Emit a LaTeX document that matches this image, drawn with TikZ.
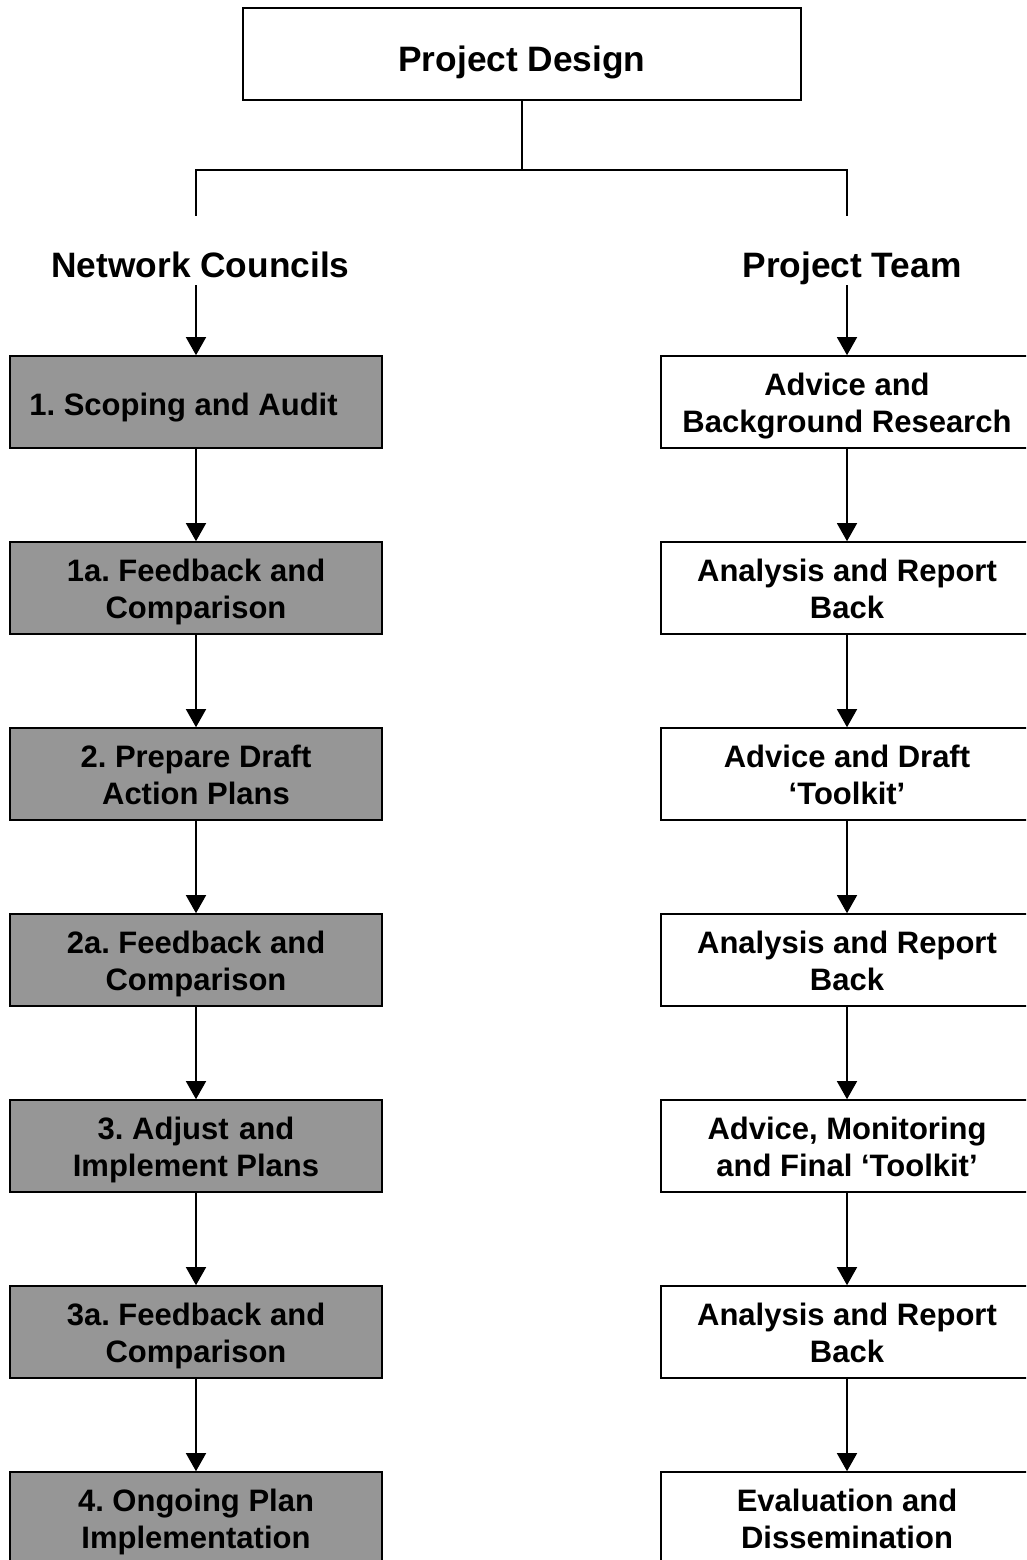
\documentclass[tikz,border=0pt]{standalone}
\usepackage{fontspec}
\setmainfont{Liberation Sans}
\usetikzlibrary{arrows.meta}
\definecolor{boxgray}{RGB}{150,150,150}
\begin{document}
\frenchspacing
\begin{tikzpicture}[x=1pt,y=-1pt,
  titlebox/.style={draw, line width=1.6pt, minimum width=558pt, minimum height=92pt, inner sep=0pt,
    text height=36pt, text depth=0pt,
    font=\fontsize{35.3}{40}\selectfont\bfseries},
  heading/.style={inner sep=0pt, anchor=base, text height=61pt, text depth=8pt,
    font=\fontsize{35.3}{40}\selectfont\bfseries},
  stepbox/.style={draw, line width=1.6pt, minimum width=372pt, minimum height=92pt, inner sep=0pt,
    text height=60pt, text depth=0pt,
    align=center, font=\fontsize{31}{37}\selectfont\bfseries},
  oneline/.style={text height=26pt, text depth=0pt},
  graybox/.style={stepbox, fill=boxgray},
  whitebox/.style={stepbox, fill=white},
  conn/.style={line width=1.4pt},
  arr/.style={conn, -{Triangle[width=20pt,length=18pt]}}
]
\useasboundingbox (0,0) rectangle (1026,1560);
\clip (0,0) rectangle (1026,1560);
\fill[white] (0,0) rectangle (1026,1560);

\node[titlebox] (pd) at (522,54) {Project Design};
\coordinate (hub) at (522,170);

\node[heading] (nc) at (200.5,277) {Network Councils};
\node[heading] (pt) at (852,277) {Project Team};

% left column
\node[graybox,oneline] (l1) at (196,402) {1. Scoping and Audit\hspace*{25pt}};
\node[graybox] (l2) at (196,588) {1a. Feedback and\\Comparison};
\node[graybox] (l3) at (196,774) {2. Prepare Draft\\Action Plans};
\node[graybox] (l4) at (196,960) {2a. Feedback and\\Comparison};
\node[graybox] (l5) at (196,1146) {3. Adjust\hspace{10.5pt}and\\Implement Plans};
\node[graybox] (l6) at (196,1332) {3a. Feedback and\\Comparison};
\node[graybox] (l7) at (196,1518) {4. Ongoing Plan\\Implementation};

% right column
\node[whitebox] (r1) at (847,402) {Advice and\\Background Research};
\node[whitebox] (r2) at (847,588) {Analysis and Report\\Back};
\node[whitebox] (r3) at (847,774) {Advice and Draft\\‘Toolkit’};
\node[whitebox] (r4) at (847,960) {Analysis and Report\\Back};
\node[whitebox] (r5) at (847,1146) {Advice, Monitoring\\and Final ‘Toolkit’};
\node[whitebox] (r6) at (847,1332) {Analysis and Report\\Back};
\node[whitebox] (r7) at (847,1518) {Evaluation and\\Dissemination};

% connectors
\draw[conn] (pd.south) -- (hub);
\draw[conn] (hub) -| (nc.north -| l1.north);
\draw[conn] (hub) -| (pt.north -| r1.north);
\draw[arr] (nc.south -| l1.north) -- (l1.north);
\draw[arr] (pt.south -| r1.north) -- (r1.north);

\foreach \a/\b in {l1/l2,l2/l3,l3/l4,l4/l5,l5/l6,l6/l7,r1/r2,r2/r3,r3/r4,r4/r5,r5/r6,r6/r7}
  \draw[arr] (\a.south) -- (\b.north);
\end{tikzpicture}
\end{document}
